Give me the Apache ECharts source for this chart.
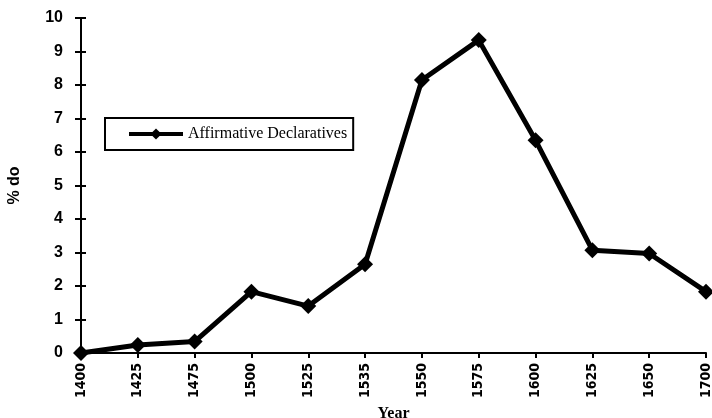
<!DOCTYPE html>
<html>
<head>
<meta charset="utf-8">
<script src="https://cdn.jsdelivr.net/npm/echarts@6/dist/echarts.min.js"></script>
<style>
html,body{margin:0;padding:0;background:#fff;}
#c{width:712px;height:418px;}
</style>
</head>
<body>
<div id="c"></div>
<script>
const years = ['1400','1425','1475','1500','1525','1535','1550','1575','1600','1625','1650','1700'];
const affirmativeDeclaratives = [0, 0.24, 0.34, 1.83, 1.4, 2.65, 8.15, 9.34, 6.35, 3.07, 2.97, 1.83];
const seriesName = 'Affirmative Declaratives';

const chart = echarts.init(document.getElementById('c'));
chart.setOption({
  animation: false,
  backgroundColor: '#fff',
  grid: {left: 81, right: 6, top: 18, bottom: 65, containLabel: false, outerBoundsMode: 'none'},
  legend: {
    data: [seriesName],
    left: 105, top: 118,
    padding: [8, 6, 8, 22],
    borderColor: '#000', borderWidth: 2,
    itemWidth: 54, itemHeight: 14,
    lineStyle: {width: 4, color: '#000'},
    textStyle: {fontFamily: 'Liberation Serif, serif', fontSize: 16, color: '#000'}
  },
  xAxis: {
    type: 'category',
    data: years,
    boundaryGap: false,
    name: 'Year',
    nameLocation: 'middle',
    nameGap: 50,
    nameTextStyle: {fontFamily: 'Liberation Serif, serif', fontSize: 16, fontWeight: 'bold', color: '#000'},
    axisLine: {lineStyle: {color: '#000', width: 2}},
    axisTick: {show: true, length: 5, lineStyle: {color: '#000', width: 2}, alignWithLabel: true},
    axisLabel: {
      rotate: 90, margin: 10, interval: 0,
      fontFamily: 'Liberation Sans Narrow, DejaVu Sans Condensed, Liberation Sans, sans-serif',
      fontWeight: 'bold', fontSize: 14, color: '#000'
    },
    splitLine: {show: false}
  },
  yAxis: [{
    type: 'value',
    min: 0, max: 10, interval: 1,
    name: '% do',
    nameLocation: 'middle',
    nameGap: 58,
    nameRotate: 90,
    nameTextStyle: {fontFamily: 'Liberation Sans, sans-serif', fontSize: 16, fontWeight: 'bold', color: '#000'},
    axisLine: {show: true, lineStyle: {color: '#000', width: 2}},
    axisTick: {show: true, length: 6, lineStyle: {color: '#000', width: 2}},
    axisLabel: {margin: 18, fontFamily: 'Liberation Sans, sans-serif', fontWeight: 'bold', fontSize: 16, color: '#000'},
    splitLine: {show: false}
  }, {
    type: 'value',
    min: 0, max: 10, interval: 1,
    position: 'left',
    axisLine: {show: false},
    axisTick: {show: true, inside: true, length: 5, lineStyle: {color: '#000', width: 2}},
    axisLabel: {show: false},
    splitLine: {show: false}
  }],
  series: [{
    name: seriesName,
    type: 'line',
    data: affirmativeDeclaratives,
    yAxisIndex: 0,
    symbol: 'diamond',
    symbolSize: 16,
    showAllSymbol: true,
    lineStyle: {color: '#000', width: 5},
    itemStyle: {color: '#000'}
  }]
});
</script>
</body>
</html>
